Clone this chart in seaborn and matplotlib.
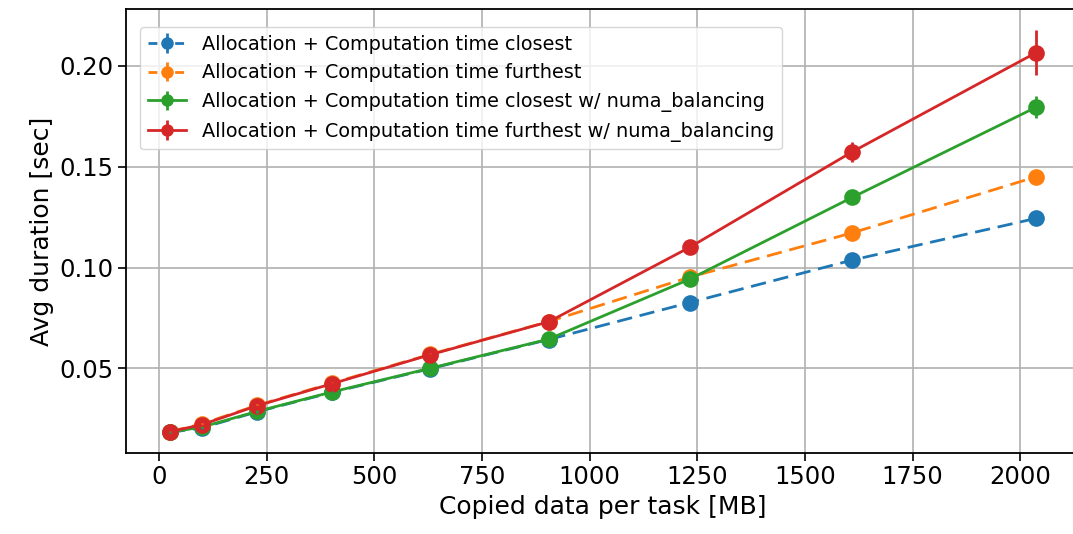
import numpy as np
import pandas as pd
import seaborn as sns
import matplotlib.pyplot as plt

# data
data_mb = [25, 100, 227, 402, 629, 905, 1232, 1610, 2037]

closest = [0.0182, 0.0205, 0.0284, 0.0381, 0.0498, 0.0643, 0.0826, 0.1037, 0.1244]
furthest = [0.0186, 0.0225, 0.0316, 0.0427, 0.0569, 0.0732, 0.0952, 0.1172, 0.1450]
closest_numa = [0.0183, 0.0209, 0.0286, 0.0383, 0.0500, 0.0645, 0.0942, 0.1348, 0.1795]
furthest_numa = [0.0186, 0.0221, 0.0314, 0.0424, 0.0567, 0.0731, 0.1100, 0.1574, 0.2066]

err_closest = [0.0004, 0.0004, 0.0005, 0.0005, 0.0006, 0.0008, 0.0010, 0.0012, 0.0015]
err_furthest = [0.0004, 0.0005, 0.0005, 0.0006, 0.0007, 0.0009, 0.0012, 0.0015, 0.0020]
err_closest_numa = [0.0004, 0.0005, 0.0006, 0.0007, 0.0009, 0.0012, 0.0020, 0.0030, 0.0055]
err_furthest_numa = [0.0004, 0.0005, 0.0006, 0.0008, 0.0010, 0.0014, 0.0020, 0.0050, 0.0113]

labels = [
    "Allocation + Computation time closest",
    "Allocation + Computation time furthest",
    "Allocation + Computation time closest w/ numa_balancing",
    "Allocation + Computation time furthest w/ numa_balancing",
]
values = [closest, furthest, closest_numa, furthest_numa]
errors = [err_closest, err_furthest, err_closest_numa, err_furthest_numa]
dashed = [True, True, False, False]

palette = sns.color_palette("tab10", 4)

df = pd.concat(
    [pd.DataFrame({"size": data_mb, "duration": v, "series": lab}) for lab, v in zip(labels, values)],
    ignore_index=True,
)

fig = plt.figure(figsize=(10.73, 5.34), dpi=100)
ax = fig.add_axes([126 / 1073, 81 / 534, 954 / 1073, 443.7 / 534])

sns.lineplot(
    data=df, x="size", y="duration", hue="series", style="series",
    hue_order=labels, style_order=labels, palette=palette,
    markers={lab: "o" for lab in labels},
    dashes={lab: ((5.5, 2.8) if d else "") for lab, d in zip(labels, dashed)},
    markersize=12, markeredgewidth=0, linewidth=2, errorbar=None,
    legend=False, ax=ax,
)

handles = []
for lab, v, e, c, d in zip(labels, values, errors, palette, dashed):
    ax.errorbar(data_mb, v, yerr=e, fmt="none", ecolor=c, elinewidth=2)
    # proxy only for the legend
    h = ax.errorbar([np.nan], [np.nan], yerr=[0.0], fmt="o", color=c,
                    ls=(0, (3.2, 1.6)) if d else "-", lw=2, ms=8, label=lab)
    handles.append(h)

ax.set_xlim(-77, 2139)
ax.set_ylim(0.008, 0.2281)
ax.set_xticks([0, 250, 500, 750, 1000, 1250, 1500, 1750, 2000])
ax.set_yticks([0.05, 0.10, 0.15, 0.20])
ax.grid(True, color="#b0b0b0", linewidth=1.2)
ax.set_axisbelow(True)
for s in ax.spines.values():
    s.set_linewidth(1.3)
ax.tick_params(labelsize=17.5, length=5.5, width=1.2)
ax.set_xlabel("Copied data per task [MB]", fontsize=18)
ax.set_ylabel("Avg duration [sec]", fontsize=18)

ax.legend(handles=handles, labels=labels, loc="upper left", fontsize=13.9,
          bbox_to_anchor=(0.0147, 0.960), borderaxespad=0)

fig.savefig("out.png", dpi=100)
